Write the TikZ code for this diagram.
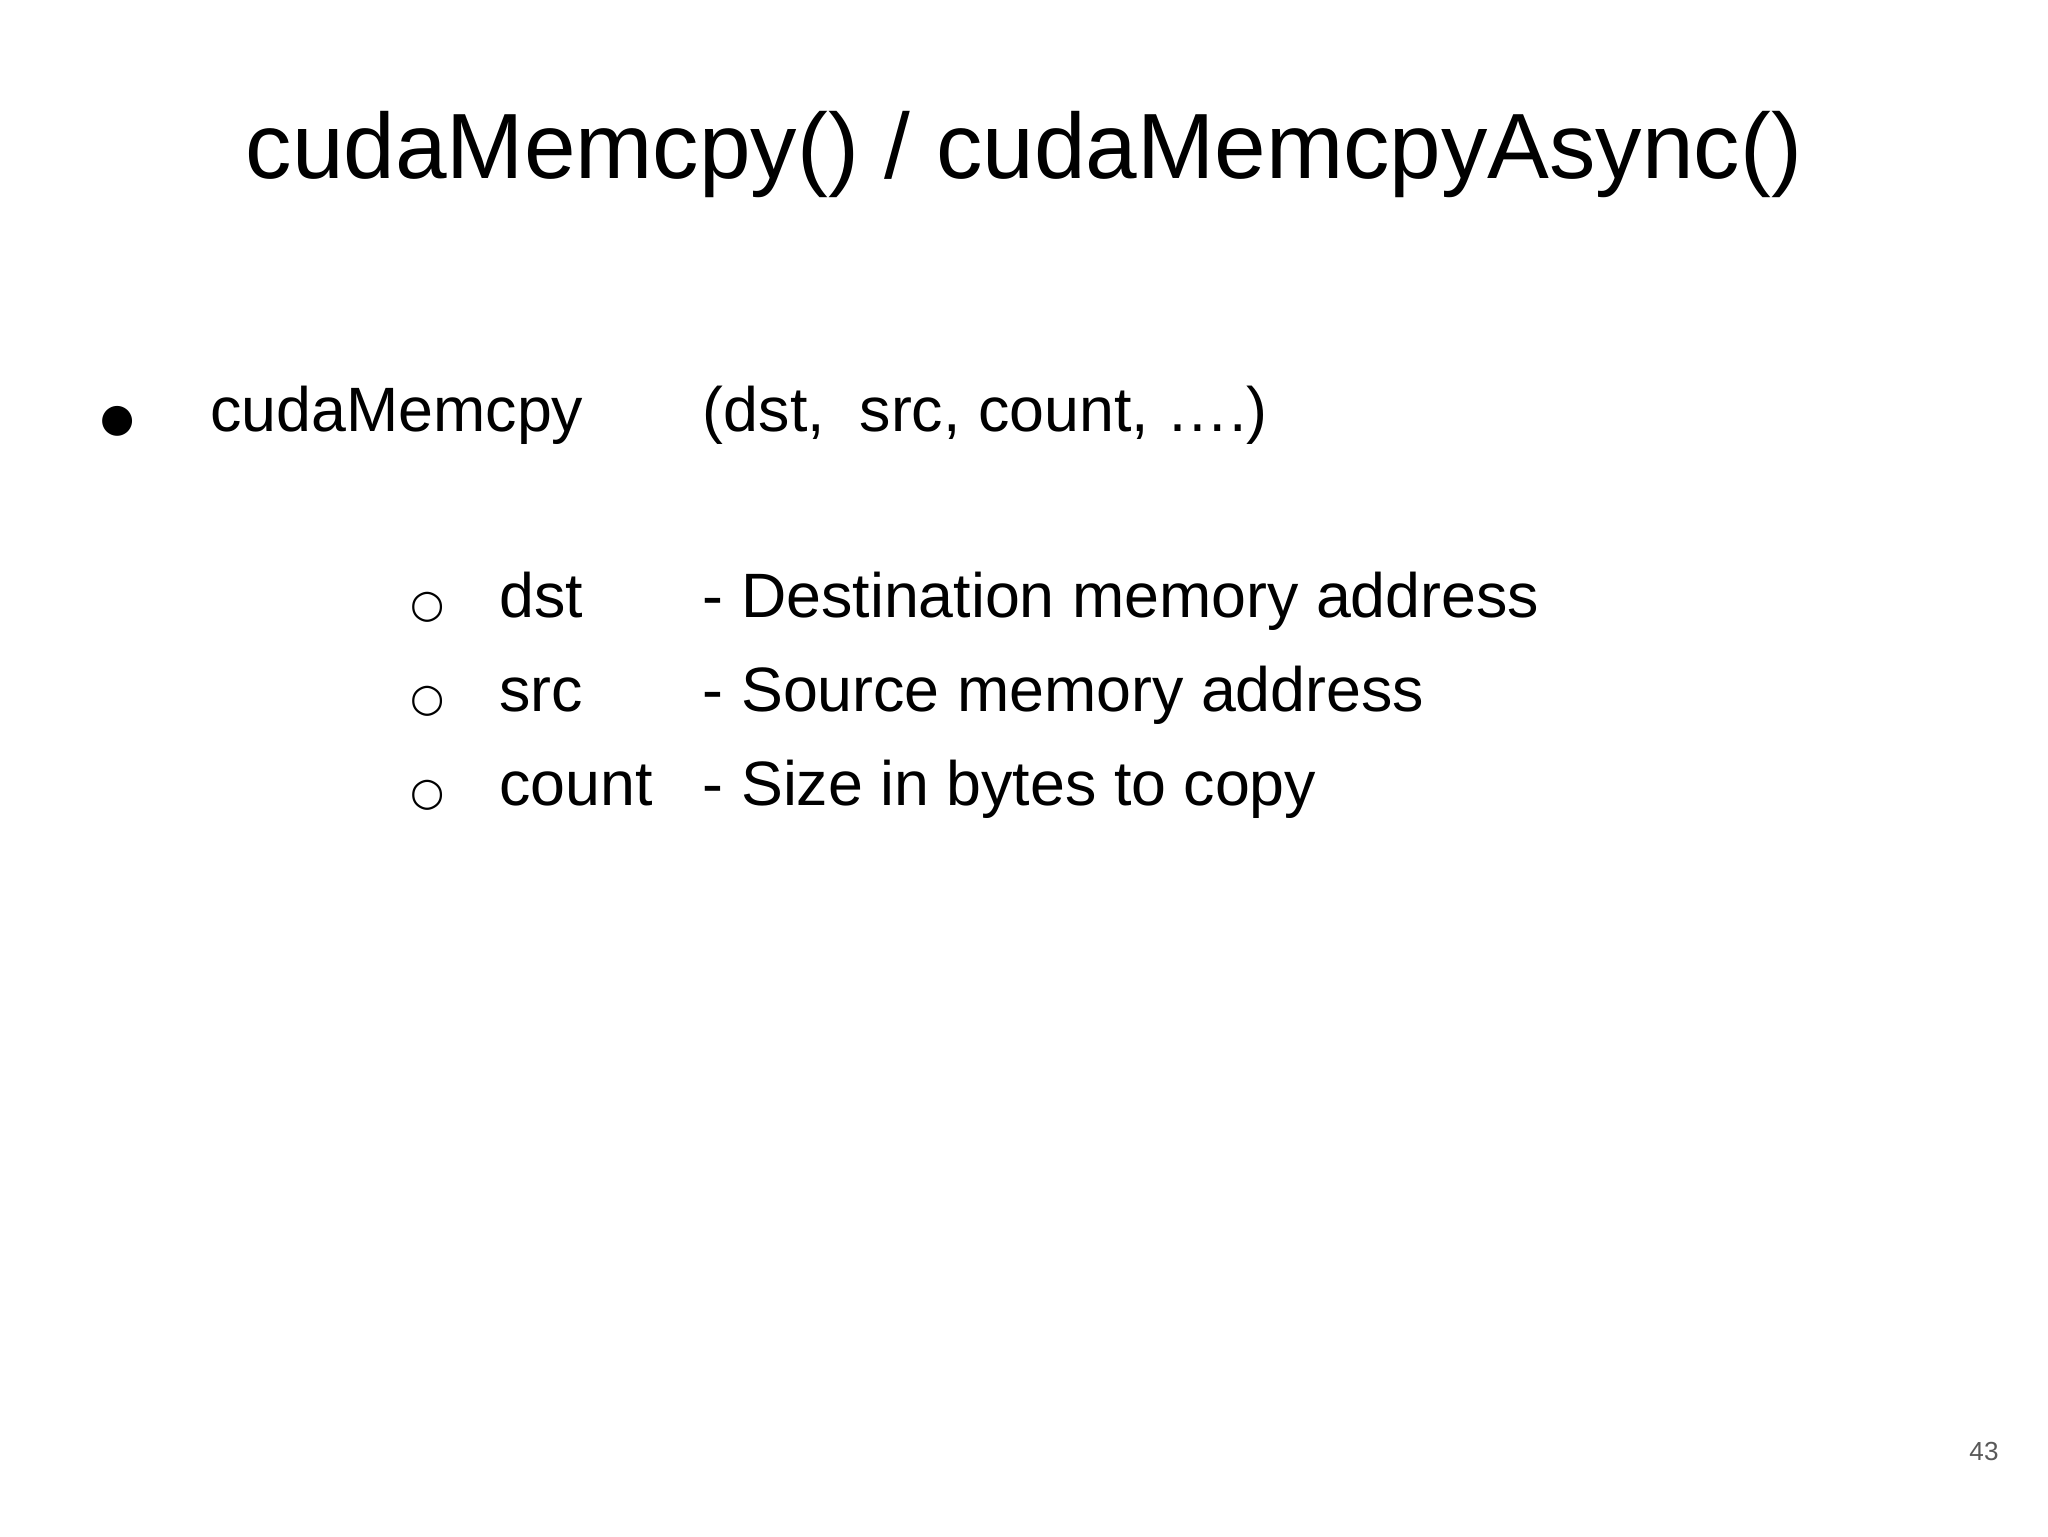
\documentclass[tikz,border=0pt]{standalone}
\usepackage{fontspec}
\setmainfont{Liberation Sans}
\newfontfamily\symf{DejaVu Sans}
\begin{document}
\begin{tikzpicture}[x=1pt,y=1pt,
  txt/.style={anchor=base west,inner sep=0pt,font=\fontsize{48}{56}\selectfont},
  sym/.style={anchor=base,inner sep=0pt,font=\symf\fontsize{30}{36}\selectfont}]
\useasboundingbox[fill=white] (0,0) rectangle (1568,1176);
\node[anchor=base,inner sep=0pt,font=\fontsize{71}{80}\selectfont] (title) at (784,1176-137) {cudaMemcpy() / cudaMemcpyAsync()};
\node[sym] (b1) at (90,1176-330) {●};
\node[txt] (f) at (161,1176-330) {cudaMemcpy};
\node[txt] (args) at (538,1176-330) {(dst,\ \ src, count, ….)};
\node[sym] (s1) at (327,1176-473) {○};
\node[txt] (n1) at (382,1176-473) {dst};
\node[txt] (d1) at (538,1176-473) {- Destination memory address};
\node[sym] (s2) at (327,1176-545) {○};
\node[txt] (n2) at (382,1176-545) {src};
\node[txt] (d2) at (538,1176-545) {- Source memory address};
\node[sym] (s3) at (327,1176-617) {○};
\node[txt] (n3) at (382,1176-617) {count};
\node[txt] (d3) at (538,1176-617) {- Size in bytes to copy};
\node[anchor=base,inner sep=0pt,text=black!65,font=\fontsize{20}{24}\selectfont] (pg) at (1519,1176-1118) {43};
\end{tikzpicture}
\end{document}
